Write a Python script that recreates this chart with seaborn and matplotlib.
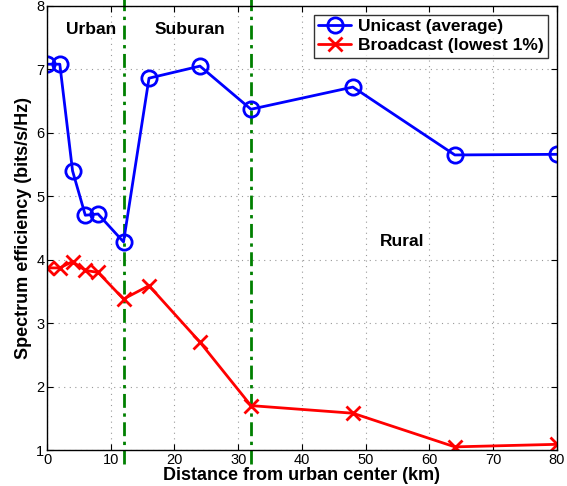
import matplotlib
matplotlib.use("Agg")
import matplotlib.pyplot as plt
import seaborn as sns
import pandas as pd

distance_km = [0, 2, 4, 6, 8, 12, 16, 24, 32, 48, 64, 80]
unicast_avg = [7.08, 7.08, 5.40, 4.70, 4.72, 4.28, 6.86, 7.05, 6.37, 6.72, 5.65, 5.66]
broadcast_low1 = [3.87, 3.87, 3.97, 3.83, 3.80, 3.38, 3.59, 2.70, 1.70, 1.58, 1.05, 1.09]
boundaries_km = [12, 32]
region_names = ["Urban", "Suburan", "Rural"]
region_pos = [(6.9, 7.62), (22.4, 7.62), (55.8, 4.29)]
x_ticks = [0, 10, 20, 30, 40, 50, 60, 70, 80]
y_ticks = [1, 2, 3, 4, 5, 6, 7, 8]

sns.set_theme(style="white")
plt.rcParams['font.family'] = ['Liberation Sans', 'DejaVu Sans']
plt.rcParams.update({"text.color": "black", "axes.labelcolor": "black",
                     "xtick.color": "black", "ytick.color": "black"})

df = pd.DataFrame({
    "d": distance_km * 2,
    "v": unicast_avg + broadcast_low1,
    "s": ["Unicast (average)"] * len(distance_km) + ["Broadcast (lowest 1%)"] * len(distance_km),
})

fig = plt.figure(figsize=(5.67, 4.86), dpi=100)
ax = fig.add_axes([0.083, 0.074, 0.899, 0.914])

sns.lineplot(data=df[df.s == "Unicast (average)"], x="d", y="v", ax=ax, color="#0000ff",
             linewidth=2, marker="o", markersize=11, markerfacecolor="none",
             markeredgecolor="#0000ff", markeredgewidth=2, label="Unicast (average)", sort=False)
sns.lineplot(data=df[df.s == "Broadcast (lowest 1%)"], x="d", y="v", ax=ax, color="#ff0000",
             linewidth=2, marker="x", markersize=10, markeredgewidth=2,
             markeredgecolor="#ff0000", markerfacecolor="#ff0000",
             label="Broadcast (lowest 1%)", sort=False)

ax.set_xlim(0, 80)
ax.set_ylim(1, 8)
for b in boundaries_km:
    ax.plot([b, b], [0.78, 8.1], color="#008000", linestyle=(0, (5, 2, 1.2, 2)),
            linewidth=2, clip_on=False, zorder=1)

for name, (x, y) in zip(region_names, region_pos):
    ax.text(x, y, name, ha="center", va="center", fontsize=12.5, fontweight="bold",
            color="black")

ax.set_xticks(x_ticks)
ax.set_yticks(y_ticks)
ax.grid(True, linestyle=(0, (1, 4)), color="#999999", linewidth=0.8)
ax.tick_params(direction="in", top=True, right=True, bottom=True, left=True,
               length=4, width=0.8, color="black", labelcolor="black",
               labelsize=10.5, pad=2)
for sp in ax.spines.values():
    sp.set_color("black")
    sp.set_linewidth(1)
ax.set_xlabel("Distance from urban center (km)", fontsize=13, fontweight="bold",
              labelpad=0, color="black")
ax.set_ylabel("Spectrum efficiency (bits/s/Hz)", fontsize=13, fontweight="bold",
              labelpad=3, color="black")

leg = ax.legend(loc="upper right", fontsize=12.5, frameon=True, fancybox=False,
                edgecolor="black", borderaxespad=0.5, handlelength=1.9,
                borderpad=0.25, labelspacing=0.25, handletextpad=0.4)
leg.get_frame().set_linewidth(1)
for t in leg.get_texts():
    t.set_fontweight("bold")
    t.set_color("black")

fig.savefig("out.png", dpi=100)
